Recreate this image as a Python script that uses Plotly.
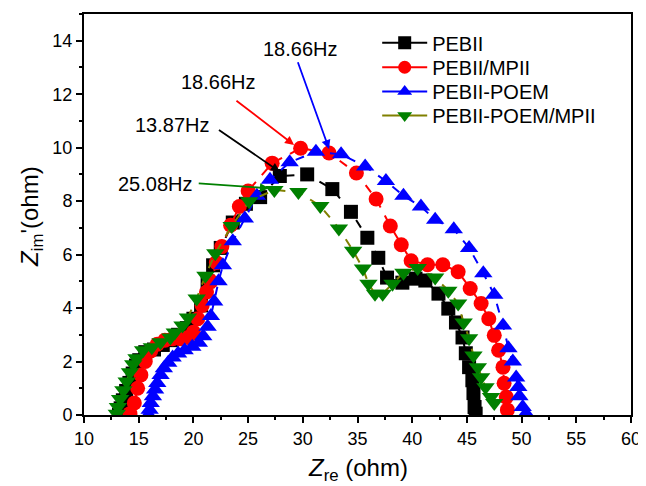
import plotly.graph_objects as go

# ---- data ----
names = ["PEBII", "PEBII/MPII", "PEBII-POEM", "PEBII-POEM/MPII"]

pebii_x = [13.2, 13.35, 13.55, 13.85, 14.15, 14.45, 14.75, 15.05, 15.6, 16.4, 17.2, 18.0, 18.6, 19.4, 20.0, 20.7, 21.3, 21.8, 22.5, 23.6, 24.8, 26.1, 27.9, 30.4, 32.7, 34.4, 35.9, 36.9, 37.7, 39.1, 40.3, 41.2, 42.4, 43.3, 44.0, 44.6, 44.9, 45.2, 45.5, 45.6, 45.7, 45.8]
pebii_y = [0.0, 0.25, 0.55, 0.9, 1.2, 1.55, 1.85, 2.05, 2.35, 2.45, 2.62, 2.8, 3.0, 3.25, 3.6, 4.1, 5.0, 5.6, 6.25, 7.2, 7.9, 8.15, 8.94, 9.0, 8.45, 7.6, 6.63, 5.88, 5.14, 4.95, 5.1, 5.03, 4.54, 3.98, 3.46, 2.9, 2.31, 1.79, 1.3, 0.82, 0.3, 0.05]

mpii_x = [14.2, 14.6, 14.9, 15.2, 15.6, 16.1, 16.7, 17.4, 18.1, 18.8, 19.5, 20.0, 20.4, 20.8, 21.2, 21.6, 22.1, 22.6, 23.4, 24.2, 25.0, 27.2, 29.8, 32.4, 34.9, 36.7, 38.0, 39.0, 39.9, 41.4, 42.8, 44.2, 45.3, 46.3, 47.0, 47.5, 47.9, 48.3, 48.4, 48.6, 48.7]
mpii_y = [0.05, 0.45, 1.0, 1.5, 2.0, 2.4, 2.65, 2.8, 2.85, 2.85, 2.9, 3.1, 3.6, 4.1, 4.6, 5.0, 5.7, 6.3, 7.1, 7.8, 8.38, 9.42, 9.98, 9.8, 9.05, 8.08, 7.07, 6.37, 5.77, 5.62, 5.62, 5.36, 4.73, 4.17, 3.6, 2.98, 2.42, 1.79, 1.19, 0.67, 0.19]

poem_x = [15.9, 16.0, 16.1, 16.3, 16.5, 16.7, 17.0, 17.3, 17.7, 18.1, 18.6, 19.2, 19.9, 20.5, 20.9, 21.3, 21.6, 21.9, 22.3, 22.7, 23.6, 24.7, 25.8, 27.0, 28.8, 31.2, 33.5, 35.7, 37.6, 39.2, 40.8, 42.1, 43.8, 45.2, 46.5, 47.5, 48.3, 48.8, 49.2, 49.5, 49.7, 49.8, 50.1, 50.4]
poem_y = [0.0, 0.2, 0.45, 0.7, 0.95, 1.2, 1.5, 1.75, 1.95, 2.15, 2.3, 2.42, 2.55, 2.7, 2.95, 3.3, 3.7, 4.25, 5.0, 5.6, 6.5, 7.35, 8.2, 8.8, 9.45, 9.85, 9.75, 9.3, 8.75, 8.2, 7.8, 7.3, 6.95, 6.25, 5.3, 4.5, 3.35, 2.5, 2.0, 1.4, 1.05, 0.7, 0.3, 0.05]

poem_mpii_x = [13.0, 13.1, 13.3, 13.6, 13.9, 14.2, 14.5, 14.8, 15.4, 16.2, 17.0, 17.9, 18.3, 19.0, 19.5, 20.3, 21.1, 22.0, 23.5, 25.1, 27.4, 29.6, 31.6, 33.3, 34.6, 35.5, 36.0, 36.6, 37.3, 38.2, 39.2, 40.5, 42.1, 43.3, 44.2, 44.7, 45.2, 45.6, 46.0, 46.3, 46.7, 47.2, 47.5]
poem_mpii_y = [0.05, 0.3, 0.6, 0.93, 1.25, 1.6, 1.9, 2.12, 2.42, 2.53, 2.72, 2.9, 3.09, 3.35, 3.65, 4.36, 5.21, 6.05, 7.07, 8.0, 8.42, 8.34, 7.82, 6.98, 6.14, 5.48, 4.91, 4.54, 4.54, 4.91, 5.32, 5.5, 5.14, 4.65, 4.17, 3.46, 2.87, 2.23, 1.79, 1.41, 1.04, 0.67, 0.45]

# frequency labels
freq_labels = ["18.66Hz", "18.66Hz", "13.87Hz", "25.08Hz"]
label_pos = [(29.8, 13.7), (22.3, 12.45), (18.05, 10.85), (16.5, 8.65)]
arrow_tail = [(29.5, 13.25), (23.8, 11.8), (22.2, 10.7), (20.35, 8.67)]
arrow_head = [(32.4, 9.95), (29.2, 10.1), (27.9, 9.1), (26.9, 8.48)]

x_ticks = [10, 15, 20, 25, 30, 35, 40, 45, 50, 55, 60]
y_ticks = [0, 2, 4, 6, 8, 10, 12, 14]

# ---- styles ----
series = [
    (pebii_x, pebii_y, "black", "black", "square", 14),
    (mpii_x, mpii_y, "#FF0000", "#FF0000", "circle", 15),
    (poem_x, poem_y, "#0000FF", "#0000FF", "triangle-up", 16),
    (poem_mpii_x, poem_mpii_y, "#808000", "#008000", "triangle-down", 16),
]
arrow_colors = ["#0000FF", "#FF0000", "black", "#008000"]
legend_ids = ["legend", "legend2", "legend3", "legend4"]
legend_rows_px = [41, 65.5, 90, 114]   # window pixel centres of legend rows

fig = go.Figure()
for (xs, ys, lc, mc, sym, sz), nm in zip(series, names):
    fig.add_trace(go.Scatter(
        x=xs, y=ys, mode="lines+markers", name=nm, showlegend=False,
        line=dict(color=lc, width=2, dash="dash"),
        marker=dict(symbol=sym, size=sz, color=mc, line=dict(width=0)),
    ))
# legend entries (solid line + marker)
for (xs, ys, lc, mc, sym, sz), nm, lg in zip(series, names, legend_ids):
    fig.add_trace(go.Scatter(
        x=[None], y=[None], mode="lines+markers", name=nm, legend=lg,
        line=dict(color=lc, width=2),
        marker=dict(symbol=sym, size=13, color=mc, line=dict(width=0)),
    ))

font_family = "Liberation Sans, Arial, Helvetica, sans-serif"

annotations = []
for txt, (tx, ty), (ax, ay), (hx, hy), col in zip(freq_labels, label_pos, arrow_tail, arrow_head, arrow_colors):
    annotations.append(dict(
        x=hx, y=hy, ax=ax, ay=ay, xref="x", yref="y", axref="x", ayref="y",
        text="", showarrow=True, arrowhead=2, arrowsize=1, arrowwidth=1.8,
        arrowcolor=col, standoff=0, startstandoff=0,
    ))
    annotations.append(dict(
        x=tx, y=ty, xref="x", yref="y", text=txt, showarrow=False,
        font=dict(size=20, color="black", family=font_family),
        xanchor="center", yanchor="middle",
    ))

annotations.append(dict(
    x=0.5, y=-0.137, xref="paper", yref="paper",
    text="<i>Z</i><sub>re</sub> (ohm)", showarrow=False,
    font=dict(size=24, color="black", family=font_family),
    xanchor="center", yanchor="middle",
))
annotations.append(dict(
    x=-0.095, y=0.494, xref="paper", yref="paper",
    text="<i>Z</i><sub>im</sub>'(ohm)", showarrow=False, textangle=-90,
    font=dict(size=24, color="black", family=font_family),
    xanchor="center", yanchor="middle",
))

axis_common = dict(
    showgrid=False, zeroline=False, showline=True, linecolor="black", linewidth=2,
    mirror=True, ticks="outside", ticklen=6, tickwidth=2, tickcolor="black",
    tickfont=dict(size=18, color="black", family=font_family),
)

# page body has an 8px margin: figure is shifted by (8, 8) in the window
PLOT_TOP, PLOT_BOTTOM = 12, 415
legend_layout = {}
for lg, py in zip(legend_ids, legend_rows_px):
    legend_layout[lg] = dict(
        x=0.536, y=(PLOT_BOTTOM - py) / (PLOT_BOTTOM - PLOT_TOP),
        xanchor="left", yanchor="middle",
        bgcolor="rgba(0,0,0,0)", borderwidth=0,
        font=dict(size=20, color="black", family=font_family),
        itemwidth=45,
    )

fig.update_layout(
    width=638, height=478,
    margin=dict(l=76, r=15, t=4, b=71),
    paper_bgcolor="white", plot_bgcolor="white",
    font=dict(family=font_family, color="black"),
    xaxis=dict(range=[10, 60], tickvals=x_ticks, ticktext=[str(v) for v in x_ticks],
               minor=dict(dtick=2.5, ticklen=3, tickwidth=2, tickcolor="black", ticks="outside"),
               **axis_common),
    yaxis=dict(range=[0, 15], tickvals=y_ticks, ticktext=[str(v) for v in y_ticks],
               minor=dict(dtick=1, ticklen=3, tickwidth=2, tickcolor="black", ticks="outside"),
               **axis_common),
    annotations=annotations,
    showlegend=True,
    **legend_layout,
)

fig.write_html("out.html")
